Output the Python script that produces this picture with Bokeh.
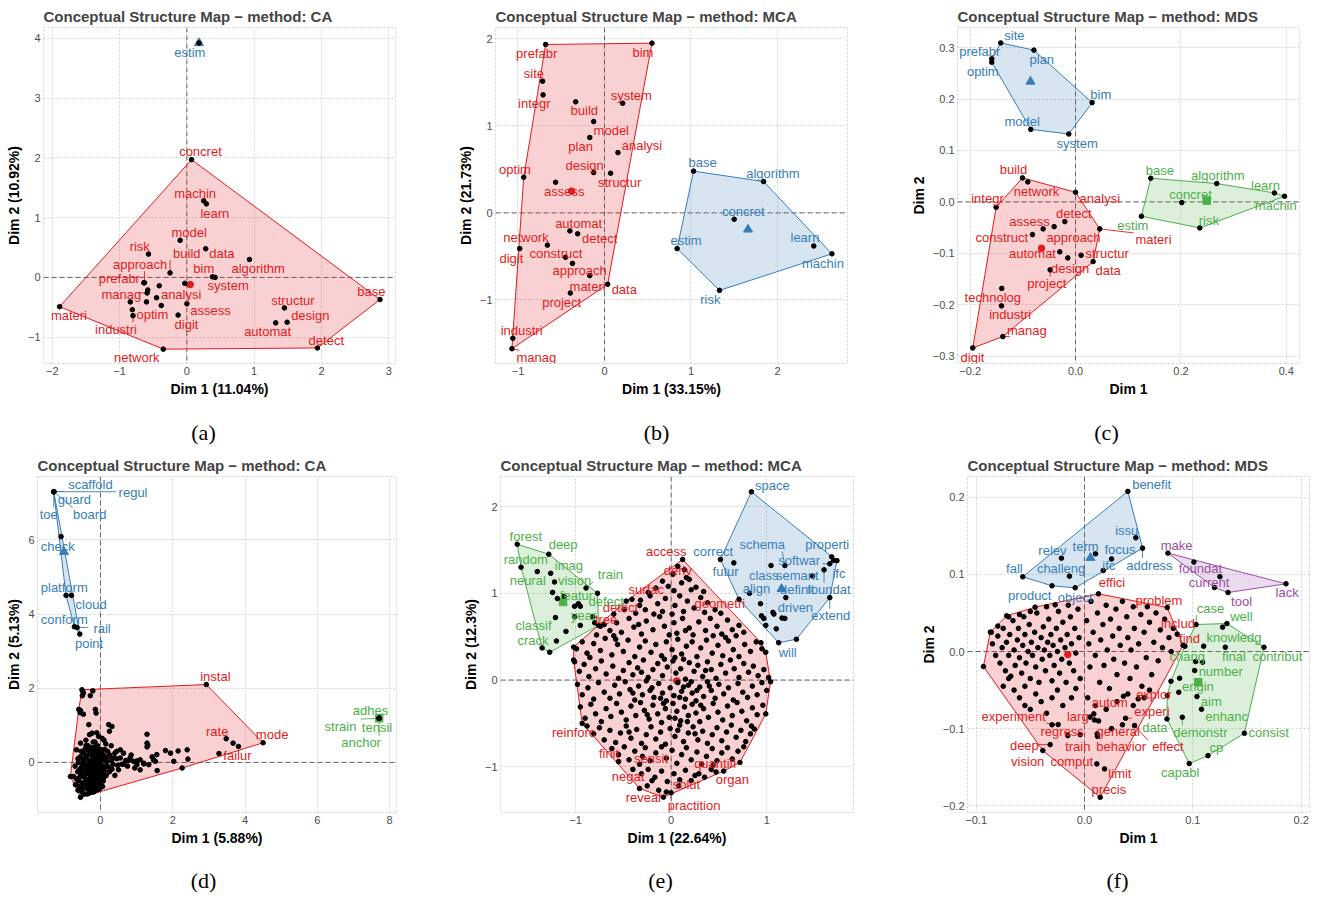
import math
from bokeh.plotting import figure
from bokeh.layouts import column, row
from bokeh.models import Range1d, Span, FixedTicker, CustomJSTickFormatter
from bokeh.core.properties import value
from bokeh.embed import file_html
from bokeh.resources import INLINE

RED, BLUE, GREEN, PURPLE = "#E41A1C", "#377EB8", "#4DAF4A", "#984EA3"
TITLE = "Conceptual Structure Map \u2212 method: "
captions = ["(a)", "(b)", "(c)", "(d)", "(e)", "(f)"]

# ---------------- panel (a) CA ----------------
a_red_terms = ["concret", "machin", "learn", "model", "risk", "build", "data", "approach", "bim", "algorithm",
               "prefabr", "system", "manag", "analysi", "materi", "optim", "assess", "industri", "digit",
               "network", "structur", "design", "automat", "detect", "base"]
a_red_pts = [(0.07, 1.97), (0.25, 1.28), (0.29, 1.23), (-0.10, 0.62), (-0.57, 0.39), (-0.25, 0.075), (0.28, 0.48),
             (-0.63, -0.09), (0.38, 0.01), (0.93, 0.30), (-0.64, -0.09), (0.42, 0.0), (-0.59, -0.26), (-0.45, -0.34),
             (-1.89, -0.49), (-0.81, -0.54), (0.0, -0.44), (-0.80, -0.64), (-0.13, -0.63), (-0.35, -1.20),
             (1.45, -0.51), (1.49, -0.75), (1.32, -0.76), (1.94, -1.18), (2.87, -0.37)]
a_red_lab = [(0.202, 2.107), (0.123, 1.404), (0.416, 1.074), (0.034, 0.756), (-0.70, 0.516), (0.0, 0.404),
             (0.52, 0.404), (-0.695, 0.22), (0.252, 0.153), (1.06, 0.153), (-1.003, -0.02), (0.614, -0.143),
             (-0.973, -0.283), (-0.085, -0.283), (-1.752, -0.645), (-0.512, -0.618), (0.351, -0.551),
             (-1.053, -0.869), (-0.006, -0.796), (-0.745, -1.343), (1.576, -0.389), (1.834, -0.64), (1.20, -0.908),
             (2.072, -1.053), (2.742, -0.238)]
a_red_extra = [(-0.41, -0.14), (-0.03, -0.10), (-0.58, -0.21), (-0.60, -0.41), (-0.38, -0.47), (-0.84, -0.41)]
a_red_centre = (0.05, -0.12)
a_blue_terms = ["estim"]
a_blue_pts = [(0.18, 3.92)]
a_blue_lab = [(0.044, 3.765)]
a_blue_centre = (0.18, 3.92)

# ---------------- panel (b) MCA ----------------
b_red_terms = ["prefabr", "bim", "site", "integr", "build", "system", "model", "plan", "analysi", "design",
               "structur", "optim", "assess", "automat", "detect", "network", "digit", "construct", "approach",
               "materi", "data", "project", "industri", "manag"]
b_red_pts = [(-0.68, 1.935), (0.549, 1.95), (-0.715, 1.513), (-0.71, 1.356), (-0.333, 1.276), (0.21, 1.26),
             (-0.125, 1.05), (-0.17, 0.866), (0.156, 0.693), (-0.125, 0.464), (0.071, 0.456), (-0.934, 0.41),
             (-0.565, 0.352), (-0.40, -0.207), (-0.31, -0.24), (-0.66, -0.37), (-0.98, -0.41), (-0.45, -0.51),
             (-0.37, -0.58), (-0.17, -0.72), (0.037, -0.82), (-0.395, -0.92), (-1.06, -1.44), (-1.07, -1.56)]
b_red_lab = [(-0.784, 1.828), (0.445, 1.847), (-0.815, 1.605), (-0.811, 1.253), (-0.233, 1.176), (0.31, 1.349),
             (0.079, 0.946), (-0.276, 0.762), (0.434, 0.77), (-0.229, 0.548), (0.175, 0.352), (-1.035, 0.498),
             (-0.464, 0.245), (-0.299, -0.119), (-0.056, -0.291), (-0.908, -0.284), (-1.077, -0.521),
             (-0.561, -0.471), (-0.287, -0.667), (-0.195, -0.843), (0.229, -0.877), (-0.495, -1.031),
             (-0.958, -1.352), (-0.788, -1.659)]
b_red_centre = (-0.38, 0.25)
b_blue_terms = ["base", "algorithm", "concret", "estim", "learn", "machin", "risk"]
b_blue_pts = [(1.03, 0.48), (1.84, 0.36), (1.50, -0.073), (0.84, -0.41), (2.42, -0.38), (2.63, -0.47), (1.33, -0.89)]
b_blue_lab = [(1.135, 0.575), (1.948, 0.452), (1.605, 0.015), (0.942, -0.322), (2.318, -0.287), (2.526, -0.579),
              (1.224, -0.992)]
b_blue_centre = (1.66, -0.19)

# ---------------- panel (c) MDS ----------------
c_blue_terms = ["site", "plan", "prefabr", "optim", "bim", "model", "system"]
c_blue_pts = [(-0.142, 0.309), (-0.079, 0.295), (-0.159, 0.278), (-0.159, 0.2715), (0.0315, 0.193), (-0.085, 0.141),
              (-0.0128, 0.132)]
c_blue_lab = [(-0.1159, 0.3227), (-0.064, 0.2767), (-0.1817, 0.2922), (-0.176, 0.254), (0.048, 0.208),
              (-0.1013, 0.1568), (0.003, 0.114)]
c_blue_centre = (-0.0855, 0.234)
c_red_terms = ["build", "network", "analysi", "integr", "detect", "approach", "assess", "materi", "construct",
               "automat", "design", "structur", "data", "project", "technolog", "industri", "manag", "digit"]
c_red_pts = [(-0.1007, 0.0467), (-0.0906, 0.0389), (0.0, 0.0188), (-0.1507, -0.0103), (-0.0204, -0.0382),
             (-0.0406, -0.048), (-0.0615, -0.0524), (0.046, -0.0524), (-0.0817, -0.0635), (-0.0299, -0.097),
             (-0.0147, -0.1088), (0.0106, -0.1036), (0.0334, -0.116), (-0.0482, -0.132), (-0.14, -0.168),
             (-0.1405, -0.202), (-0.138, -0.2617), (-0.195, -0.2837)]
c_red_lab = [(-0.1178, 0.0622), (-0.0741, 0.0208), (0.046, 0.0059), (-0.1671, 0.0059), (-0.0033, -0.0233),
             (-0.0039, -0.0699), (-0.0874, -0.0375), (0.1479, -0.0738), (-0.1399, -0.0699), (-0.0817, -0.0997),
             (-0.0102, -0.1289), (0.06, -0.0997), (0.0619, -0.1334), (-0.0545, -0.1587), (-0.157, -0.1866),
             (-0.1241, -0.2196), (-0.0925, -0.2507), (-0.1956, -0.3019)]
c_red_centre = (-0.0646, -0.09)
c_green_terms = ["base", "algorithm", "learn", "machin", "concret", "estim", "risk"]
c_green_pts = [(0.1428, 0.046), (0.268, 0.0357), (0.3775, 0.0175), (0.3965, 0.011), (0.2016, -0.0013),
               (0.125, -0.0278), (0.2358, -0.0505)]
c_green_lab = [(0.1599, 0.0609), (0.27, 0.0506), (0.3604, 0.0311), (0.38, -0.0064), (0.2181, 0.0136),
               (0.1087, -0.046), (0.2529, -0.0356)]
c_green_centre = (0.249, 0.0026)

# ---------------- panel (d) CA ----------------
d_blue_terms = ["scaffold", "regul", "guard", "toe", "board", "check", "platform", "cloud", "conform", "rail", "point"]
d_blue_pts = [(-1.29, 7.30), (-1.29, 7.30), (-1.29, 7.30), (-1.29, 7.30), (-1.29, 7.30), (-1.088, 6.09),
              (-0.95, 4.505), (-0.80, 4.505), (-0.72, 3.66), (-0.645, 3.64), (-0.57, 3.46)]
d_blue_lab = [(-0.276, 7.50), (0.903, 7.27), (-0.719, 7.09), (-1.43, 6.69), (-0.295, 6.68), (-1.18, 5.83),
              (-1.0, 4.72), (-0.258, 4.27), (-1.0, 3.86), (0.046, 3.62), (-0.313, 3.21)]
d_blue_centre = (-1.01, 5.68)
d_green_terms = ["adhes", "strain", "tensil", "anchor"]
d_green_pts = [(7.71, 1.19), (7.71, 1.19), (7.71, 1.19), (7.71, 1.19)]
d_green_lab = [(7.47, 1.39), (6.64, 0.98), (7.65, 0.94), (7.21, 0.53)]
d_green_centre = (7.71, 1.19)
d_red_terms = ["instal", "rate", "mode", "failur"]
d_red_pts = [(2.93, 2.10), (3.48, 0.64), (4.50, 0.53), (3.67, 0.52)]
d_red_lab = [(3.18, 2.31), (3.23, 0.83), (4.75, 0.74), (3.79, 0.20)]
d_red_centre = (-0.05, -0.05)
d_red_extra = [
    (-0.51, 1.96), (-0.47, 1.87), (-0.28, 1.80), (-0.21, 1.93), (-0.50, 1.80), (-0.49, 1.92),
    (-0.60, 1.43), (-0.56, 1.34), (-0.47, 1.30), (-0.14, 1.43), (-0.12, 1.33), (-0.55, 1.40),
    (-0.32, 1.02), (0.23, 1.02), (0.32, 0.97), (-0.23, 0.79), (-0.05, 0.70), (0.25, 0.84), (1.29, 0.76),
    (1.29, 0.52), (1.31, 0.46), (-0.40, 0.60), (-0.15, 0.55), (0.10, 0.60),
    (-0.83, -0.38), (-0.74, -0.38), (-0.69, -0.60), (-0.55, -0.94), (-0.66, 0.34), (-0.55, 0.52), (-0.70, -0.10),
    (-0.62, 0.10),
    (0.55, 0.34), (0.64, 0.25), (0.82, 0.12), (0.92, 0.03), (1.01, -0.06), (1.10, 0.07), (1.20, -0.02),
    (1.34, -0.06), (1.47, 0.07), (1.56, 0.21), (1.52, 0.03), (1.57, -0.22), (1.80, 0.32), (1.94, 0.25),
    (2.03, 0.03), (2.15, 0.31), (2.26, -0.15), (2.40, 0.34), (2.42, 0.09), (1.43, 0.15), (1.29, 0.42),
    (1.20, -0.04), (1.01, 0.04), (0.70, 0.05), (0.75, -0.10), (0.60, -0.05), (0.45, 0.10), (0.40, 0.25),
    (0.35, -0.05), (0.85, 0.20), (0.95, -0.15), (1.10, -0.20), (0.50, -0.20), (0.30, 0.05), (0.20, 0.15),
    (0.15, -0.10), (0.25, -0.25), (0.40, -0.35), (0.10, -0.40), (3.82, 0.43), (3.28, 0.24),
    (-0.60, -0.50), (-0.55, -0.30), (-0.50, -0.10), (-0.48, 0.05), (-0.45, -0.40), (-0.42, -0.65), (-0.40, -0.20),
    (-0.38, 0.15), (-0.36, -0.55), (-0.35, -0.05), (-0.33, -0.30), (-0.31, 0.30), (-0.30, -0.75), (-0.28, -0.15),
    (-0.27, 0.05), (-0.26, -0.45), (-0.25, -0.60), (-0.24, 0.20), (-0.22, -0.25), (-0.21, -0.05), (-0.20, -0.80),
    (-0.19, -0.35), (-0.18, 0.10), (-0.17, -0.55), (-0.16, 0.40), (-0.15, -0.15), (-0.14, -0.70), (-0.13, 0.00),
    (-0.12, -0.40), (-0.11, 0.25), (-0.10, -0.25), (-0.09, -0.60), (-0.08, -0.10), (-0.07, 0.10), (-0.06, -0.45),
    (-0.05, 0.35), (-0.04, -0.30), (-0.03, -0.05), (-0.02, -0.70), (0.0, 0.15), (0.02, -0.20), (0.04, -0.50),
    (0.05, 0.05), (0.07, -0.35), (0.08, 0.20), (0.10, -0.10), (-0.58, -0.20), (-0.52, -0.70), (-0.47, 0.25),
    (-0.44, -0.85), (-0.41, -0.05), (-0.37, -0.45), (-0.34, 0.45), (-0.29, -0.82), (-0.23, -0.50), (-0.20, 0.55),
    (-0.16, -0.78), (-0.13, -0.20), (-0.08, 0.45), (-0.04, -0.72), (0.01, 0.35), (0.06, -0.65), (-0.62, -0.75),
    (-0.56, 0.15), (-0.50, -0.55), (-0.46, -0.25), (-0.43, 0.35), (-0.39, -0.70), (-0.32, 0.05), (-0.27, -0.35),
    (-0.22, 0.00), (-0.18, -0.20), (-0.14, 0.15), (-0.10, -0.45), (-0.06, -0.15), (-0.02, 0.05), (0.03, -0.35),
    (0.12, 0.35), (0.15, 0.50), (0.05, 0.65), (-0.30, 0.75), (-0.10, 0.80), (0.20, 0.30), (0.30, 0.45), (0.45, 0.30),
    (-0.66, -0.45), (-0.63, -0.25), (-0.61, 0.00), (-0.59, -0.65), (-0.57, -0.40), (-0.54, -0.15), (-0.53, 0.30),
    (-0.51, -0.80), (-0.49, -0.35), (-0.47, -0.05), (-0.45, -0.60), (-0.44, 0.10), (-0.42, -0.30), (-0.40, 0.45),
    (-0.39, -0.50), (-0.37, -0.10), (-0.36, -0.85), (-0.35, 0.20), (-0.33, -0.60), (-0.32, -0.20), (-0.30, 0.35),
    (-0.29, -0.45), (-0.28, 0.00), (-0.26, -0.70), (-0.25, -0.15), (-0.24, 0.40), (-0.23, -0.35), (-0.21, 0.15),
    (-0.20, -0.60), (-0.19, -0.05), (-0.18, 0.30), (-0.17, -0.45), (-0.15, -0.30), (-0.14, 0.05), (-0.13, -0.62),
    (-0.12, 0.20), (-0.11, -0.10), (-0.10, -0.75), (-0.09, 0.00), (-0.08, -0.35), (-0.07, -0.55), (-0.05, 0.22),
    (-0.04, -0.20), (-0.03, -0.42), (-0.01, 0.10), (0.00, -0.60), (0.02, -0.08), (0.04, 0.25), (0.06, -0.28),
    (0.08, -0.50), (0.09, 0.08), (0.11, -0.22), (0.13, 0.12), (0.16, -0.35), (0.18, 0.02), (0.22, -0.12),
    (0.26, 0.20), (0.32, -0.18), (0.36, 0.12), (0.48, -0.08), (0.55, 0.12), (0.65, -0.05), (0.78, 0.05),
]

# ---------------- panel (e) MCA ----------------
e_red_terms = ["access", "deriv", "surfac", "detect", "tree", "geometri", "reinforc", "finit", "sensit", "negat",
               "reveal", "practition", "solut", "quantifi", "organ"]
e_red_pts = [(0.12, 1.39), (0.16, 1.18), (-0.32, 0.92), (-0.60, 0.76), (-0.74, 0.62), (0.34, 1.02), (-0.93, -0.50),
             (-0.55, -0.94), (-0.33, -0.97), (-0.33, -1.25), (-0.08, -1.35), (0.0, -1.30), (0.25, -1.10),
             (0.72, -0.95), (0.55, -1.05)]
e_red_lab = [(-0.05, 1.48), (0.07, 1.26), (-0.26, 1.04), (-0.53, 0.84), (-0.68, 0.70), (0.51, 0.88), (-1.02, -0.60),
             (-0.65, -0.85), (-0.21, -0.91), (-0.45, -1.11), (-0.29, -1.35), (0.24, -1.45), (0.16, -1.21),
             (0.46, -0.96), (0.64, -1.15)]
e_red_centre = (0.06, -0.01)
e_red_extra = [
    (0.94, 0.43), (0.99, 0.32), (1.04, -0.02), (0.99, -0.39), (0.87, -0.565), (-1.02, 0.23), (-1.02, 0.38),
    (-0.47, 0.91),
    (0.07, 1.31), (0.14, 1.27), (0.02, 1.22), (0.19, 1.16), (-0.09, 1.14), (0.11, 1.12), (0.26, 1.07), (-0.16, 1.06),
    (0.03, 1.03), (-0.24, 1.01), (0.21, 1.04), (-0.03, 1.08),
    (-0.41, 0.93), (-0.33, 0.86), (-0.22, 0.97), (-0.14, 0.88), (-0.06, 0.94), (0.04, 0.86), (0.09, 0.97),
    (0.17, 0.91), (0.24, 0.83), (0.31, 0.95), (0.38, 0.89), (0.46, 0.81), (0.52, 0.77), (-0.49, 0.81), (-0.37, 0.77),
    (-0.27, 0.81), (-0.09, 0.79), (0.01, 0.76), (0.13, 0.79), (0.35, 0.78), (-0.18, 0.76),
    (-0.70, 0.64), (-0.64, 0.57), (-0.57, 0.66), (-0.52, 0.55), (-0.44, 0.71), (-0.39, 0.61), (-0.31, 0.53),
    (-0.26, 0.68), (-0.19, 0.58), (-0.12, 0.73), (-0.07, 0.62), (0.03, 0.66), (0.06, 0.54), (0.12, 0.71),
    (0.19, 0.60), (0.23, 0.52), (0.29, 0.67), (0.36, 0.57), (0.41, 0.71), (0.48, 0.62), (0.53, 0.53), (0.59, 0.69),
    (0.64, 0.58), (0.71, 0.63), (0.76, 0.55), (-0.78, 0.52), (-0.60, 0.51), (-0.02, 0.52), (0.44, 0.51),
    (0.68, 0.51), (-0.34, 0.64), (0.15, 0.57),
    (-0.99, 0.36), (-0.93, 0.44), (-0.88, 0.31), (-0.81, 0.42), (-0.74, 0.34), (-0.69, 0.48), (-0.62, 0.29),
    (-0.56, 0.41), (-0.50, 0.33), (-0.45, 0.46), (-0.38, 0.27), (-0.33, 0.38), (-0.27, 0.45), (-0.21, 0.32),
    (-0.16, 0.41), (-0.10, 0.28), (-0.05, 0.44), (0.01, 0.35), (0.07, 0.47), (0.11, 0.30), (0.16, 0.39),
    (0.22, 0.44), (0.27, 0.27), (0.31, 0.37), (0.37, 0.46), (0.43, 0.31), (0.49, 0.40), (0.54, 0.28), (0.60, 0.45),
    (0.65, 0.35), (0.71, 0.27), (0.77, 0.41), (0.83, 0.33), (0.89, 0.44), (0.95, 0.36), (-0.85, 0.26),
    (-0.58, 0.47), (0.04, 0.26), (0.57, 0.49),
    (-1.01, 0.21), (-0.96, 0.10), (-0.91, 0.18), (-0.86, 0.04), (-0.79, 0.13), (-0.73, 0.22), (-0.68, 0.07),
    (-0.61, 0.16), (-0.55, 0.02), (-0.50, 0.11), (-0.44, 0.20), (-0.40, 0.06), (-0.35, 0.14), (-0.29, 0.23),
    (-0.24, 0.03), (-0.19, 0.12), (-0.14, 0.19), (-0.09, 0.05), (-0.04, 0.15), (0.02, 0.22), (0.05, 0.08),
    (0.10, 0.13), (0.15, 0.01), (0.19, 0.20), (0.24, 0.10), (0.28, 0.17), (0.33, 0.04), (0.38, 0.21), (0.42, 0.12),
    (0.47, 0.02), (0.52, 0.18), (0.57, 0.08), (0.62, 0.23), (0.66, 0.13), (0.71, 0.03), (0.76, 0.19), (0.81, 0.09),
    (0.86, 0.16), (0.91, 0.05), (0.97, 0.12), (1.02, 0.03), (-0.31, 0.09), (0.36, 0.11), (-0.07, 0.24), (0.13, 0.24),
    (-0.98, -0.05), (-0.93, -0.17), (-0.87, -0.09), (-0.81, -0.22), (-0.76, -0.03), (-0.70, -0.14), (-0.64, -0.21),
    (-0.59, -0.06), (-0.54, -0.16), (-0.48, -0.02), (-0.43, -0.11), (-0.38, -0.23), (-0.34, -0.07), (-0.30, -0.17),
    (-0.26, -0.01), (-0.22, -0.12), (-0.18, -0.20), (-0.13, -0.04), (-0.09, -0.15), (-0.05, -0.24), (-0.01, -0.09),
    (0.03, -0.18), (0.07, -0.03), (0.11, -0.13), (0.15, -0.22), (0.18, -0.06), (0.22, -0.15), (0.26, -0.24),
    (0.30, -0.08), (0.34, -0.19), (0.38, -0.02), (0.42, -0.12), (0.46, -0.21), (0.50, -0.05), (0.55, -0.16),
    (0.60, -0.09), (0.65, -0.23), (0.70, -0.04), (0.75, -0.14), (0.80, -0.20), (0.85, -0.07), (0.90, -0.17),
    (0.95, -0.03), (1.00, -0.12), (-0.20, -0.09), (-0.11, -0.21), (0.09, -0.20), (0.27, -0.12), (0.40, -0.07),
    (-0.40, -0.15), (0.13, -0.08), (0.21, -0.02),
    (-0.95, -0.31), (-0.90, -0.44), (-0.84, -0.28), (-0.79, -0.39), (-0.73, -0.48), (-0.68, -0.33), (-0.63, -0.42),
    (-0.57, -0.27), (-0.52, -0.37), (-0.47, -0.46), (-0.42, -0.30), (-0.37, -0.41), (-0.32, -0.26), (-0.28, -0.35),
    (-0.23, -0.45), (-0.19, -0.29), (-0.14, -0.39), (-0.10, -0.49), (-0.06, -0.33), (-0.02, -0.43), (0.02, -0.27),
    (0.06, -0.36), (0.10, -0.47), (0.14, -0.31), (0.18, -0.41), (0.22, -0.28), (0.26, -0.38), (0.30, -0.48),
    (0.34, -0.33), (0.39, -0.43), (0.44, -0.27), (0.49, -0.37), (0.54, -0.46), (0.59, -0.30), (0.64, -0.41),
    (0.69, -0.26), (0.74, -0.36), (0.79, -0.47), (0.85, -0.32), (0.90, -0.40), (0.96, -0.29), (-0.25, -0.40),
    (0.04, -0.44), (0.31, -0.29), (0.17, -0.48), (-0.08, -0.27),
    (-0.88, -0.53), (-0.81, -0.62), (-0.75, -0.55), (-0.70, -0.69), (-0.64, -0.58), (-0.58, -0.72), (-0.53, -0.61),
    (-0.47, -0.53), (-0.42, -0.67), (-0.36, -0.57), (-0.31, -0.73), (-0.26, -0.63), (-0.21, -0.54), (-0.16, -0.68),
    (-0.11, -0.60), (-0.06, -0.74), (-0.01, -0.56), (0.04, -0.65), (0.09, -0.52), (0.13, -0.71), (0.18, -0.61),
    (0.23, -0.54), (0.28, -0.69), (0.33, -0.59), (0.38, -0.73), (0.43, -0.63), (0.48, -0.55), (0.53, -0.70),
    (0.58, -0.60), (0.63, -0.52), (0.68, -0.66), (0.73, -0.58), (0.78, -0.71), (0.83, -0.62), (0.84, -0.53),
    (-0.44, -0.60), (0.07, -0.58), (0.25, -0.62),
    (-0.62, -0.79), (-0.55, -0.86), (-0.49, -0.77), (-0.44, -0.92), (-0.38, -0.82), (-0.27, -0.78), (-0.22, -0.93),
    (-0.16, -0.84), (-0.10, -0.77), (-0.05, -0.90), (0.01, -0.81), (0.06, -0.96), (0.11, -0.86), (0.16, -0.78),
    (0.21, -0.92), (0.27, -0.83), (0.32, -0.97), (0.37, -0.88), (0.43, -0.79), (0.48, -0.93), (0.53, -0.84),
    (0.59, -0.78), (0.64, -0.91), (0.70, -0.82), (0.76, -0.77), (-0.30, -0.88), (0.44, -0.98),
    (-0.40, -1.03), (-0.31, -1.08), (-0.24, -1.03), (-0.17, -1.12), (-0.10, -1.05), (-0.04, -1.17), (0.03, -1.08),
    (0.09, -1.15), (0.15, -1.04), (0.21, -1.16), (0.29, -1.08), (0.35, -1.12), (0.42, -1.03), (0.47, -1.06),
    (-0.25, -1.22), (-0.13, -1.27), (-0.05, -1.29), (0.08, -1.22), (-0.20, -1.16),
]
e_green_terms = ["forest", "deep", "random", "neural", "imag", "vision", "featur", "train", "defect", "year",
                 "classif", "crack"]
e_green_pts = [(-1.61, 1.565), (-1.28, 1.45), (-1.57, 1.30), (-1.40, 1.25), (-1.26, 1.23), (-1.22, 1.13),
               (-1.12, 0.965), (-0.89, 1.06), (-0.77, 1.0), (-1.01, 0.73), (-1.21, 0.72), (-1.35, 0.37)]
e_green_lab = [(-1.52, 1.66), (-1.13, 1.565), (-1.52, 1.39), (-1.50, 1.15), (-1.07, 1.32), (-1.01, 1.15),
               (-0.99, 0.97), (-0.635, 1.215), (-0.68, 0.91), (-0.915, 0.74), (-1.44, 0.63), (-1.445, 0.45)]
e_green_extra = [(-1.24, 1.01), (-1.19, 0.94), (-0.97, 0.88), (-1.01, 0.85), (-0.95, 0.85), (-0.95, 0.63),
                 (-0.82, 0.73), (-0.80, 0.66), (-0.76, 0.63), (-1.10, 0.56), (-1.20, 0.45), (-1.27, 0.32)]
e_green_centre = (-1.13, 0.90)
e_blue_terms = ["space", "correct", "futur", "schema", "properti", "softwar", "class", "semant", "ifc", "foundat",
                "extend", "align", "definit", "driven", "will"]
e_blue_pts = [(0.84, 2.17), (0.516, 1.39), (0.656, 1.35), (1.19, 1.32), (1.68, 1.42), (1.66, 1.34), (1.045, 1.32),
              (1.48, 1.20), (1.735, 1.376), (1.60, 1.27), (1.66, 0.95), (0.82, 1.0), (1.20, 0.95), (1.16, 0.715),
              (1.125, 0.43)]
e_blue_lab = [(1.06, 2.24), (0.44, 1.48), (0.57, 1.25), (0.953, 1.56), (1.633, 1.56), (1.34, 1.38), (0.969, 1.21),
              (1.32, 1.21), (1.755, 1.23), (1.65, 1.04), (1.67, 0.74), (0.893, 1.06), (1.32, 1.04), (1.30, 0.84),
              (1.22, 0.32)]
e_blue_extra = [(1.70, 1.38), (0.71, 0.93), (0.935, 0.88), (0.945, 0.74), (0.97, 0.71), (1.065, 0.78), (1.075, 0.76),
                (1.19, 0.71), (0.99, 0.63), (1.10, 0.59), (1.31, 0.47)]
e_blue_centre = (1.155, 1.05)

# ---------------- panel (f) MDS ----------------
f_blue_terms = ["benefit", "issu", "address", "term", "relev", "focus", "ifc", "challeng", "fall", "product", "object"]
f_blue_pts = [(0.040, 0.2076), (0.0474, 0.1475), (0.0536, 0.134), (0.0102, 0.1267), (-0.0213, 0.121),
              (0.025, 0.120), (0.0173, 0.105), (-0.0139, 0.0977), (-0.057, 0.0969), (-0.030, 0.0852),
              (-0.0086, 0.0826)]
f_blue_lab = [(0.062, 0.217), (0.039, 0.157), (0.060, 0.112), (0.001, 0.1367), (-0.0296, 0.131), (0.0327, 0.132),
              (0.0225, 0.1116), (-0.0216, 0.108), (-0.0647, 0.107), (-0.0505, 0.073), (-0.0086, 0.0705)]
f_blue_centre = (0.0055, 0.1215)
f_purple_terms = ["make", "foundat", "current", "tool", "lack"]
f_purple_pts = [(0.077, 0.1276), (0.101, 0.1159), (0.120, 0.083), (0.1325, 0.0765), (0.186, 0.0878)]
f_purple_lab = [(0.085, 0.138), (0.107, 0.108), (0.115, 0.0895), (0.145, 0.0653), (0.187, 0.076)]
f_purple_extra = [(0.125, 0.097)]
f_green_terms = ["case", "well", "knowledg", "final", "contribut", "chang", "number", "engin", "aim", "enhanc",
                 "demonstr", "data", "consist", "cp", "capabl"]
f_green_pts = [(0.103, 0.035), (0.1315, 0.0363), (0.110, 0.0069), (0.130, 0.0056), (0.1657, 0.0056),
               (0.0927, 0.0069), (0.1017, -0.0246), (0.0878, -0.0346), (0.1038, -0.0584), (0.108, -0.0748),
               (0.0903, -0.0852), (0.0761, -0.0874), (0.1476, -0.106), (0.114, -0.135), (0.0967, -0.1453)]
f_green_lab = [(0.1164, 0.0562), (0.1448, 0.0458), (0.138, 0.0186), (0.138, -0.0061), (0.178, -0.0061),
               (0.0949, -0.0061), (0.1257, -0.0255), (0.1047, -0.045), (0.117, -0.0649), (0.1312, -0.0843),
               (0.107, -0.1046), (0.065, -0.0990), (0.170, -0.1046), (0.1217, -0.1241), (0.0884, -0.1574)]
f_green_extra = [(0.1275, 0.0316), (0.1026, -0.013), (0.109, -0.0138), (0.0798, -0.0385), (0.087, -0.0528),
                 (0.0764, -0.0571)]
f_green_centre = (0.105, -0.0398)
f_red_terms = ["effici", "problem", "includ", "find", "explor", "autom", "experi", "experiment", "larg", "regress",
               "general", "train", "behavior", "effect", "deep", "vision", "comput", "limit", "precis"]
f_red_pts = [(0.0129, 0.0748), (0.0764, 0.0571), (0.0856, 0.0225), (0.091, 0.008), (0.0496, -0.0614),
             (0.0086, -0.0809), (0.0379, -0.0865), (-0.0243, -0.0947), (0.0092, -0.0887), (-0.0154, -0.109),
             (0.0117, -0.1068), (-0.004, -0.1077), (0.012, -0.110), (0.0462, -0.096), (-0.0317, -0.1207),
             (-0.0385, -0.1284), (0.0114, -0.1457), (0.0185, -0.1522), (0.0145, -0.189)]
f_red_lab = [(0.0253, 0.0895), (0.0687, 0.0666), (0.0863, 0.0368), (0.097, 0.0173), (0.064, -0.0562),
             (0.0234, -0.0666), (0.0622, -0.0778), (-0.0653, -0.0839), (-0.0062, -0.0839), (-0.0206, -0.1034),
             (0.0311, -0.1034), (-0.0062, -0.1228), (0.0339, -0.1228), (0.077, -0.1237), (-0.0555, -0.1224),
             (-0.0524, -0.1423), (-0.0117, -0.1423), (0.0327, -0.1587), (0.0225, -0.179)]
f_red_centre = (-0.0154, -0.0039)
f_red_extra = [
    (-0.0933, -0.0195), (-0.0869, 0.0251), (-0.0718, 0.0463), (-0.0456, 0.0575), (-0.0271, 0.0605),
    (-0.085, 0.010), (-0.082, -0.005), (-0.080, 0.020), (-0.078, -0.015), (-0.076, 0.005), (-0.075, 0.030),
    (-0.073, -0.025), (-0.072, 0.012), (-0.070, -0.005), (-0.069, 0.022), (-0.068, -0.032), (-0.066, 0.040),
    (-0.065, 0.002), (-0.064, -0.018), (-0.062, 0.015), (-0.061, 0.030), (-0.060, -0.008), (-0.058, -0.028),
    (-0.057, 0.008), (-0.056, 0.045), (-0.055, 0.022), (-0.054, -0.015), (-0.052, 0.000), (-0.051, 0.035),
    (-0.050, -0.035), (-0.049, 0.012), (-0.048, -0.005), (-0.046, 0.025), (-0.045, -0.020), (-0.044, 0.050),
    (-0.043, 0.005), (-0.042, -0.040), (-0.040, 0.018), (-0.039, -0.010), (-0.038, 0.032), (-0.037, 0.002),
    (-0.036, -0.025), (-0.034, 0.012), (-0.033, 0.042), (-0.032, -0.005), (-0.031, 0.022), (-0.030, -0.038),
    (-0.029, 0.008), (-0.028, -0.018), (-0.026, 0.030), (-0.025, 0.000), (-0.024, 0.052), (-0.023, -0.028),
    (-0.022, 0.015), (-0.021, -0.010), (-0.020, 0.038), (-0.018, 0.005), (-0.017, -0.040), (-0.016, 0.022),
    (-0.014, -0.015), (-0.013, 0.045), (-0.012, 0.010), (-0.010, -0.025), (-0.009, 0.030), (-0.008, -0.002),
    (-0.006, 0.055), (-0.005, 0.018), (-0.004, -0.035),
    (-0.080, 0.033), (-0.070, 0.045), (-0.060, 0.048), (-0.050, 0.052), (-0.035, 0.058), (-0.015, 0.060),
    (-0.086, 0.025),
    (-0.075, -0.045), (-0.065, -0.050), (-0.055, -0.045), (-0.070, -0.035), (-0.060, -0.060), (-0.045, -0.055),
    (-0.040, -0.065), (-0.030, -0.060), (-0.025, -0.050), (-0.050, -0.075), (-0.035, -0.080), (-0.020, -0.070),
    (-0.012, -0.060), (-0.008, -0.048), (-0.055, -0.070), (-0.030, -0.095),
    (0.002, 0.040), (0.004, 0.010), (0.005, -0.020), (0.006, 0.065), (0.008, 0.025), (0.010, -0.005),
    (0.012, 0.050), (0.014, -0.040), (0.015, 0.015), (0.017, 0.035), (0.018, -0.018), (0.020, 0.060),
    (0.021, 0.002), (0.023, -0.048), (0.024, 0.042), (0.026, 0.020), (0.027, -0.010), (0.029, 0.055),
    (0.030, -0.030), (0.032, 0.030), (0.033, 0.008), (0.035, 0.065), (0.036, -0.058), (0.037, -0.015),
    (0.039, 0.045), (0.040, 0.018), (0.042, -0.035), (0.043, 0.002), (0.045, 0.058), (0.046, 0.030),
    (0.048, -0.020), (0.050, 0.010), (0.052, 0.048), (0.053, -0.045), (0.055, 0.025), (0.057, -0.008),
    (0.058, 0.058), (0.060, 0.038), (0.062, -0.030), (0.064, 0.012), (0.066, 0.050), (0.068, -0.012),
    (0.070, 0.028), (0.072, 0.005), (0.074, 0.042), (0.078, 0.018), (0.080, 0.000), (0.082, 0.030),
    (0.003, -0.060), (0.010, -0.070), (0.020, -0.075), (0.030, -0.065), (0.040, -0.055), (0.045, -0.070),
    (0.055, -0.060), (0.060, -0.050), (0.013, -0.090), (0.025, -0.100), (0.035, -0.095), (0.005, -0.085),
]

# ---------------- axes ----------------
a_xticks, a_yticks = [-2, -1, 0, 1, 2, 3], [-1, 0, 1, 2, 3, 4]
b_xticks, b_yticks = [-1, 0, 1, 2], [-1, 0, 1, 2]
c_xticks, c_yticks = [-0.2, 0.0, 0.2, 0.4], [-0.3, -0.2, -0.1, 0.0, 0.1, 0.2, 0.3]
d_xticks, d_yticks = [0, 2, 4, 6, 8], [0, 2, 4, 6]
e_xticks, e_yticks = [-1, 0, 1], [-1, 0, 1, 2]
f_xticks, f_yticks = [-0.1, 0.0, 0.1, 0.2], [-0.2, -0.1, 0.0, 0.1, 0.2]


def convex_hull(points):
    pts = sorted(set(points))
    if len(pts) < 3:
        return None

    def cross(o, a, b):
        return (a[0] - o[0]) * (b[1] - o[1]) - (a[1] - o[1]) * (b[0] - o[0])

    lower, upper = [], []
    for q in pts:
        while len(lower) >= 2 and cross(lower[-2], lower[-1], q) <= 0:
            lower.pop()
        lower.append(q)
    for q in reversed(pts):
        while len(upper) >= 2 and cross(upper[-2], upper[-1], q) <= 0:
            upper.pop()
        upper.append(q)
    h = lower[:-1] + upper[:-1]
    return h if len(h) >= 3 else None


def seg_end(pt, lab, word, sx, sy):
    dx = (pt[0] - lab[0]) * sx
    dy = (pt[1] - lab[1]) * sy
    hw = len(word) * 3.1 + 1.5
    hh = 7.0
    cx = max(-hw, min(hw, dx))
    cy = max(-hh, min(hh, dy))
    if math.hypot(dx - cx, dy - cy) > 6:
        return (lab[0] + cx / sx, lab[1] + cy / sy)
    return None


def cl(color, marker, terms, pts, lab, extra=None, centre=None):
    return dict(color=color, marker=marker, terms=terms, pts=pts, lab=lab, extra=extra or [], centre=centre)


def make_panel(method, xlab, ylab, xr, yr, xt, yt, dec, w, h, l, r, t, b, clusters):
    fw, fh = w - l - r, h - t - b
    sx, sy = fw / (xr[1] - xr[0]), fh / (yr[1] - yr[0])
    p = figure(width=w, height=h, x_range=Range1d(*xr), y_range=Range1d(*yr), output_backend="svg",
               toolbar_location=None, min_border_left=l, min_border_right=r, min_border_top=t,
               min_border_bottom=b, title=TITLE + method)
    p.title.text_font = "Liberation Sans"
    p.title.text_font_size = "15px"
    p.title.text_font_style = "bold"
    p.title.align = "left"
    p.title.standoff = 6
    p.outline_line_color = "#cfcfcf"
    p.outline_line_dash = "2 2"
    p.background_fill_color = "white"
    fmt = "return tick.toFixed(%d).replace('-', '\u2212');" % dec
    for ax, ticks, lab in ((p.xaxis[0], xt, xlab), (p.yaxis[0], yt, ylab)):
        ax.ticker = FixedTicker(ticks=ticks)
        ax.formatter = CustomJSTickFormatter(code=fmt)
        ax.axis_label = lab
        ax.axis_line_color = None
        ax.major_tick_line_color = None
        ax.minor_tick_line_color = None
        ax.major_tick_out = 0
        ax.major_tick_in = 0
        ax.major_label_standoff = 3
        ax.axis_label_standoff = 3
        ax.major_label_text_font = "Liberation Sans"
        ax.major_label_text_font_size = "11px"
        ax.major_label_text_color = "#4D4D4D"
        ax.axis_label_text_font = "Liberation Sans"
        ax.axis_label_text_font_size = "14px"
        ax.axis_label_text_font_style = "bold"
        ax.axis_label_text_color = "black"
    p.xgrid.ticker = FixedTicker(ticks=xt)
    p.ygrid.ticker = FixedTicker(ticks=yt)
    for g in (p.xgrid[0], p.ygrid[0]):
        g.grid_line_color = "#d2d2d2"
        g.grid_line_dash = "2 2"
        g.grid_line_width = 1
    p.add_layout(Span(location=0, dimension="width", line_color="#555555", line_dash="5 3", line_width=0.9,
                      level="underlay"))
    p.add_layout(Span(location=0, dimension="height", line_color="#555555", line_dash="5 3", line_width=0.9,
                      level="underlay"))
    for c in clusters:
        hull = convex_hull(c["pts"] + c["extra"])
        if hull:
            p.patch([q[0] for q in hull], [q[1] for q in hull], fill_color=c["color"], fill_alpha=0.2,
                    line_color=c["color"], line_width=1)
    for c in clusters:
        x0, y0, x1, y1 = [], [], [], []
        for word, pt, lb in zip(c["terms"], c["pts"], c["lab"]):
            e = seg_end(pt, lb, word, sx, sy)
            if e:
                x0.append(pt[0]); y0.append(pt[1]); x1.append(e[0]); y1.append(e[1])
        if x0:
            p.segment(x0, y0, x1, y1, line_color=c["color"], line_width=0.9)
    for c in clusters:
        if c["centre"]:
            size = {"circle": 6.5, "triangle": 9, "square": 7.5}[c["marker"]]
            p.scatter([c["centre"][0]], [c["centre"][1]], marker=c["marker"], size=size, color=c["color"])
    allp = [q for c in clusters for q in c["pts"] + c["extra"]]
    p.scatter([q[0] for q in allp], [q[1] for q in allp], size=4.6, color="black")
    for c in clusters:
        p.text([q[0] for q in c["lab"]], [q[1] for q in c["lab"]], text=c["terms"], text_color=c["color"],
               text_font=value("Liberation Sans"), text_font_size=value("13px"), text_align="center",
               text_baseline="middle")
    return p


def make_caption(text, w, h, cx, cy):
    c = figure(width=w, height=h, x_range=Range1d(0, w), y_range=Range1d(0, h), output_backend="svg",
               toolbar_location=None, x_axis_type=None, y_axis_type=None, min_border=0)
    c.outline_line_color = None
    c.grid.visible = False
    c.text([cx], [h - cy], text=[text], text_align="center", text_baseline="middle",
           text_font=value("Liberation Serif"), text_font_size=value("22px"), text_color="black")
    return c


pa = make_panel("CA", "Dim 1 (11.04%)", "Dim 2 (10.92%)", (-2.13, 3.10), (-1.44, 4.18), a_xticks, a_yticks, 0,
                440, 403, 43, 45, 27, 40,
                [cl(RED, "circle", a_red_terms, a_red_pts, a_red_lab, a_red_extra, a_red_centre),
                 cl(BLUE, "triangle", a_blue_terms, a_blue_pts, a_blue_lab, None, a_blue_centre)])
pb = make_panel("MCA", "Dim 1 (33.15%)", "Dim 2 (21.73%)", (-1.26, 2.81), (-1.73, 2.13), b_xticks, b_yticks, 0,
                440, 403, 55, 33, 27, 40,
                [cl(RED, "circle", b_red_terms, b_red_pts, b_red_lab, None, b_red_centre),
                 cl(BLUE, "triangle", b_blue_terms, b_blue_pts, b_blue_lab, None, b_blue_centre)])
pc = make_panel("MDS", "Dim 1", "Dim 2", (-0.224, 0.425), (-0.314, 0.339), c_xticks, c_yticks, 1,
                439, 403, 77, 20, 27, 40,
                [cl(RED, "circle", c_red_terms, c_red_pts, c_red_lab, None, c_red_centre),
                 cl(BLUE, "triangle", c_blue_terms, c_blue_pts, c_blue_lab, None, c_blue_centre),
                 cl(GREEN, "square", c_green_terms, c_green_pts, c_green_lab, None, c_green_centre)])
pd_ = make_panel("CA", "Dim 1 (5.88%)", "Dim 2 (5.13%)", (-1.74, 8.19), (-1.35, 7.71), d_xticks, d_yticks, 0,
                 440, 402, 37, 44, 26, 40,
                 [cl(RED, "circle", d_red_terms, d_red_pts, d_red_lab, d_red_extra, d_red_centre),
                  cl(BLUE, "triangle", d_blue_terms, d_blue_pts, d_blue_lab, None, d_blue_centre),
                  cl(GREEN, "square", d_green_terms, d_green_pts, d_green_lab, None, d_green_centre)])
pe = make_panel("MCA", "Dim 1 (22.64%)", "Dim 2 (12.3%)", (-1.785, 1.908), (-1.527, 2.346), e_xticks, e_yticks, 0,
                440, 402, 60, 27, 26, 40,
                [cl(RED, "circle", e_red_terms, e_red_pts, e_red_lab, e_red_extra, e_red_centre),
                 cl(BLUE, "triangle", e_blue_terms, e_blue_pts, e_blue_lab, e_blue_extra, e_blue_centre),
                 cl(GREEN, "square", e_green_terms, e_green_pts, e_green_lab, e_green_extra, e_green_centre)])
pf = make_panel("MDS", "Dim 1", "Dim 2", (-0.108, 0.2077), (-0.2087, 0.2269), f_xticks, f_yticks, 1,
                439, 402, 87, 10, 26, 40,
                [cl(RED, "circle", f_red_terms, f_red_pts, f_red_lab, f_red_extra, f_red_centre),
                 cl(BLUE, "triangle", f_blue_terms, f_blue_pts, f_blue_lab, None, f_blue_centre),
                 cl(GREEN, "square", f_green_terms, f_green_pts, f_green_lab, f_green_extra, f_green_centre),
                 cl(PURPLE, "circle", f_purple_terms, f_purple_pts, f_purple_lab, f_purple_extra, None)])

caps1 = [make_caption(captions[0], 440, 47, 203, 29), make_caption(captions[1], 440, 47, 216, 29),
         make_caption(captions[2], 439, 47, 226, 29)]
caps2 = [make_caption(captions[3], 440, 46, 203, 28), make_caption(captions[4], 440, 46, 220, 28),
         make_caption(captions[5], 439, 46, 237, 28)]

layout = column(row(pa, pb, pc), row(*caps1), row(pd_, pe, pf), row(*caps2))
open("out.html", "w").write(file_html(layout, INLINE))
